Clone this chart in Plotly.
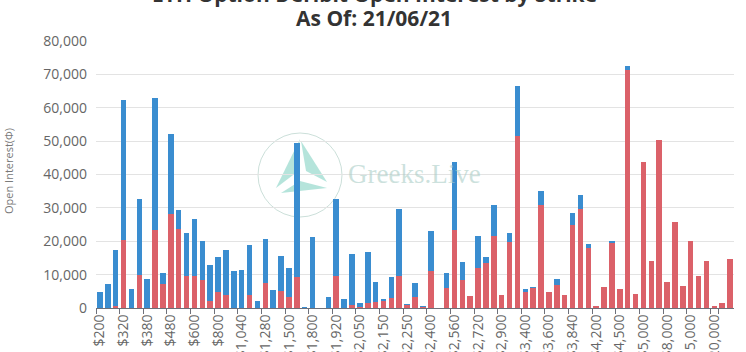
import plotly.graph_objects as go

# ---- data ----
strikes = [200, 240, 280, 320, 340, 360, 380, 400, 440, 480,
           520, 560, 600, 640, 720, 800, 880, 960, 1040, 1120,
           1200, 1280, 1360, 1440, 1500, 1600, 1700, 1800, 1840, 1880,
           1920, 1960, 2000, 2050, 2080, 2100, 2150, 2160, 2200, 2250,
           2300, 2350, 2400, 2480, 2500, 2560, 2600, 2640, 2720, 2800,
           2880, 2900, 3000, 3200, 3400, 3500, 3520, 3600, 3680, 3800,
           3840, 4000, 4100, 4200, 4300, 4400, 4500, 4800, 4900, 5000,
           6000, 7000, 8000, 10000, 12000, 15000, 16000, 18000, 20000, 25000,
           30000]
strike_labels = ["${:,}".format(s) for s in strikes]

calls_oi = [0, 0, 500, 20300, 0, 9800, 0, 23400, 7300, 28100,
            23600, 9500, 9500, 8300, 2100, 4800, 4000, 0, 0, 3800,
            0, 7500, 0, 5000, 3200, 9300, 0, 0, 0, 0,
            9500, 0, 1000, 200, 1400, 1800, 2200, 3000, 9500, 1100,
            3200, 400, 11200, 0, 6100, 23400, 8500, 3500, 12000, 13400,
            21700, 3900, 19900, 51500, 4800, 6000, 30900, 4800, 6800, 3900,
            24900, 29600, 17900, 400, 6300, 19600, 5600, 71200, 4200, 43600,
            14100, 50300, 7700, 25800, 6700, 20100, 9700, 14100, 400, 1600,
            14700]

puts_oi = [4800, 7200, 16800, 41900, 5700, 23000, 8600, 39600, 3100, 24000,
           5800, 13100, 17200, 11800, 10800, 10600, 13500, 11200, 11500, 15100,
           2100, 13300, 5300, 10500, 8900, 40000, 200, 21200, 0, 3200,
           23300, 2800, 15300, 1400, 15300, 5900, 200, 6300, 20200, 100,
           4200, 100, 11800, 0, 4400, 20300, 5200, 0, 9700, 1800,
           9200, 0, 2500, 14900, 900, 200, 4200, 0, 1800, 0,
           3600, 4200, 1400, 0, 0, 500, 0, 1300, 0, 0,
           0, 0, 0, 0, 0, 0, 0, 0, 0, 0,
           0]

y_ticks = [0, 10000, 20000, 30000, 40000, 50000, 60000, 70000, 80000]

RED = "#db6169"
BLUE = "#3a8dd0"

W, H = 746, 352
ML, MR, MT, MB = 96, 12, 41, 44
PW, PH = W - ML - MR, H - MT - MB


def px2paper(x, y):
    return (x - ML) / PW, (H - MB - y) / PH


fig = go.Figure()
fig.add_trace(go.Bar(x=strike_labels, y=calls_oi, name="Calls",
                     marker=dict(color=RED, line=dict(width=0))))
fig.add_trace(go.Bar(x=strike_labels, y=puts_oi, name="Puts",
                     marker=dict(color=BLUE, line=dict(width=0))))

# ---- watermark (decoration) ----
shapes = []
cx0, cy0 = px2paper(258, 133)
cx1, cy1 = px2paper(342, 217)
shapes.append(dict(type="circle", xref="paper", yref="paper",
                   x0=cx0, x1=cx1, y0=cy1, y1=cy0,
                   line=dict(color="rgba(190,215,208,0.8)", width=1),
                   fillcolor="rgba(0,0,0,0)", layer="between"))
polys = [
    [(300, 139), (276, 188), (297, 172)],
    [(301, 141), (327, 182), (306, 171)],
    [(281, 193), (327, 188), (300, 181)],
]
for poly in polys:
    pts = [px2paper(x, y) for x, y in poly]
    path = "M " + " L ".join("{:.4f},{:.4f}".format(a, b) for a, b in pts) + " Z"
    shapes.append(dict(type="path", xref="paper", yref="paper", path=path,
                       fillcolor="rgba(120,205,190,0.55)",
                       line=dict(width=0), layer="between"))

annotations = []
gx, gy = px2paper(414, 174)
annotations.append(dict(text="Greeks.Live", xref="paper", yref="paper",
                        x=gx, y=gy, showarrow=False,
                        xanchor="center", yanchor="middle",
                        font=dict(family="Liberation Serif", size=27,
                                  color="rgba(170,205,198,0.6)")))

# ---- titles ----
t1x, t1y = px2paper(374, -6)
t2x, t2y = px2paper(374, 18)
annotations.append(dict(text="<b>ETH Option Deribit Open Interest by Strike</b>",
                        xref="paper", yref="paper", x=t1x, y=t1y,
                        showarrow=False, xanchor="center", yanchor="middle",
                        font=dict(family="Open Sans", size=21, color="#333333")))
annotations.append(dict(text="<b>As Of: 21/06/21</b>",
                        xref="paper", yref="paper", x=t2x, y=t2y,
                        showarrow=False, xanchor="center", yanchor="middle",
                        font=dict(family="Open Sans", size=21, color="#333333")))
ax, ay = px2paper(8, 171)
annotations.append(dict(text="Open Interest(\u03a6)", xref="paper", yref="paper",
                        x=ax, y=ay, showarrow=False, textangle=-90,
                        xanchor="center", yanchor="middle",
                        font=dict(family="Open Sans", size=11, color="#777777")))

fig.update_layout(
    width=W, height=H,
    margin=dict(l=ML, r=MR, t=MT, b=MB, pad=0),
    barmode="stack", bargap=0.3,
    showlegend=False,
    plot_bgcolor="white", paper_bgcolor="white",
    font=dict(family="Open Sans", color="#666666"),
    shapes=shapes, annotations=annotations,
)
fig.update_xaxes(type="category", tickmode="array",
                 tickvals=strike_labels[::3], ticktext=strike_labels[::3],
                 tickangle=-90, tickson="boundaries",
                 ticks="outside", ticklen=5, tickcolor="#6e7079",
                 showline=True, linecolor="#6e7079", linewidth=1,
                 showgrid=False, zeroline=False, automargin=False,
                 tickfont=dict(size=14, color="#666666"))
fig.update_yaxes(range=[0, 80000], tickmode="array", tickvals=y_ticks,
                 tickformat=",", showgrid=True, gridcolor="#e3e3e3",
                 gridwidth=1, zeroline=False, showline=False, ticks="",
                 automargin=False, ticklabelstandoff=8,
                 tickfont=dict(size=14, color="#666666"))

fig.write_html("out.html")
